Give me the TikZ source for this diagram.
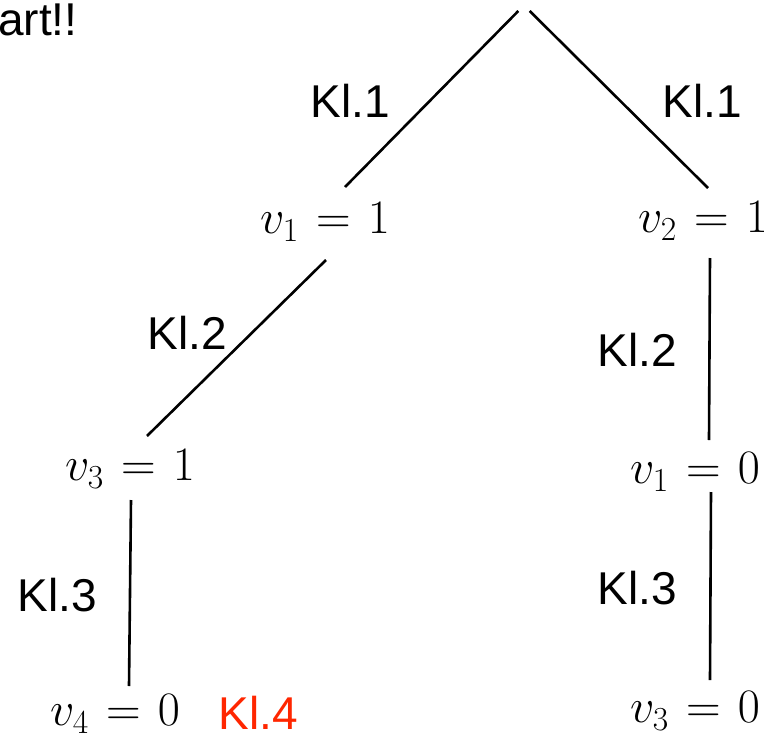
\documentclass[tikz,border=0pt]{standalone}
\usepackage{fix-cm}
\usepackage{fontspec}
\newfontfamily\klfont{Liberation Sans}
\usetikzlibrary{calc}
\newcommand{\eqsp}{\mskip1.5mu=\mskip1.5mu}
\tikzset{
  lbl/.style={font=\klfont\fontsize{46}{50}\selectfont, inner sep=0pt},
  val/.style={font=\fontsize{48}{52}\selectfont, inner sep=0pt},
  edge/.style={line width=2.6pt},
}
\begin{document}
\begin{tikzpicture}[x=1pt,y=-1pt]
\useasboundingbox (0,0) rectangle (764,734);
\node[lbl, anchor=west] (start) at (-2,20) {art!!};
\node[inner sep=0pt, minimum width=11pt, minimum height=2pt] (root) at (524,11) {};
\node[lbl] (k1l) at (350,101) {Kl.1};
\node[lbl] (k1r) at (702,101) {Kl.1};
\node[val] (v1a) at (325,222) {$v_1 \eqsp 1$};
\node[val] (v2a) at (703,221) {$v_2 \eqsp 1$};
\node[lbl] (k2l) at (187,333) {Kl.2};
\node[lbl] (k2r) at (637,350) {Kl.2};
\node[val] (v3a) at (130,469) {$v_3 \eqsp 1$};
\node[val] (v1b) at (695,472) {$v_1 \eqsp 0$};
\node[lbl] (k3l) at (57,595) {Kl.3};
\node[lbl] (k3r) at (637,588) {Kl.3};
\node[val] (v4a) at (115,714) {$v_4 \eqsp 0$};
\node[lbl, text={rgb,255:red,255;green,38;blue,0}] (k4) at (258,713) {Kl.4};
\node[val] (v3b) at (695,711) {$v_3 \eqsp 0$};
\draw[edge] (root.west) -- ($(v1a)+(20,-35)$);
\draw[edge] (root.east) -- ($(v2a)+(5,-33)$);
\draw[edge] ($(v1a)+(1,38)$) -- ($(v3a)+(17,-33)$);
\draw[edge] ($(v2a)+(7,37)$) -- ($(v1b)+(14,-32)$);
\draw[edge] ($(v3a)+(1,31)$) -- ($(v4a)+(14,-28)$);
\draw[edge] ($(v1b)+(16,20)$) -- ($(v3b)+(15,-31)$);
\end{tikzpicture}
\end{document}
